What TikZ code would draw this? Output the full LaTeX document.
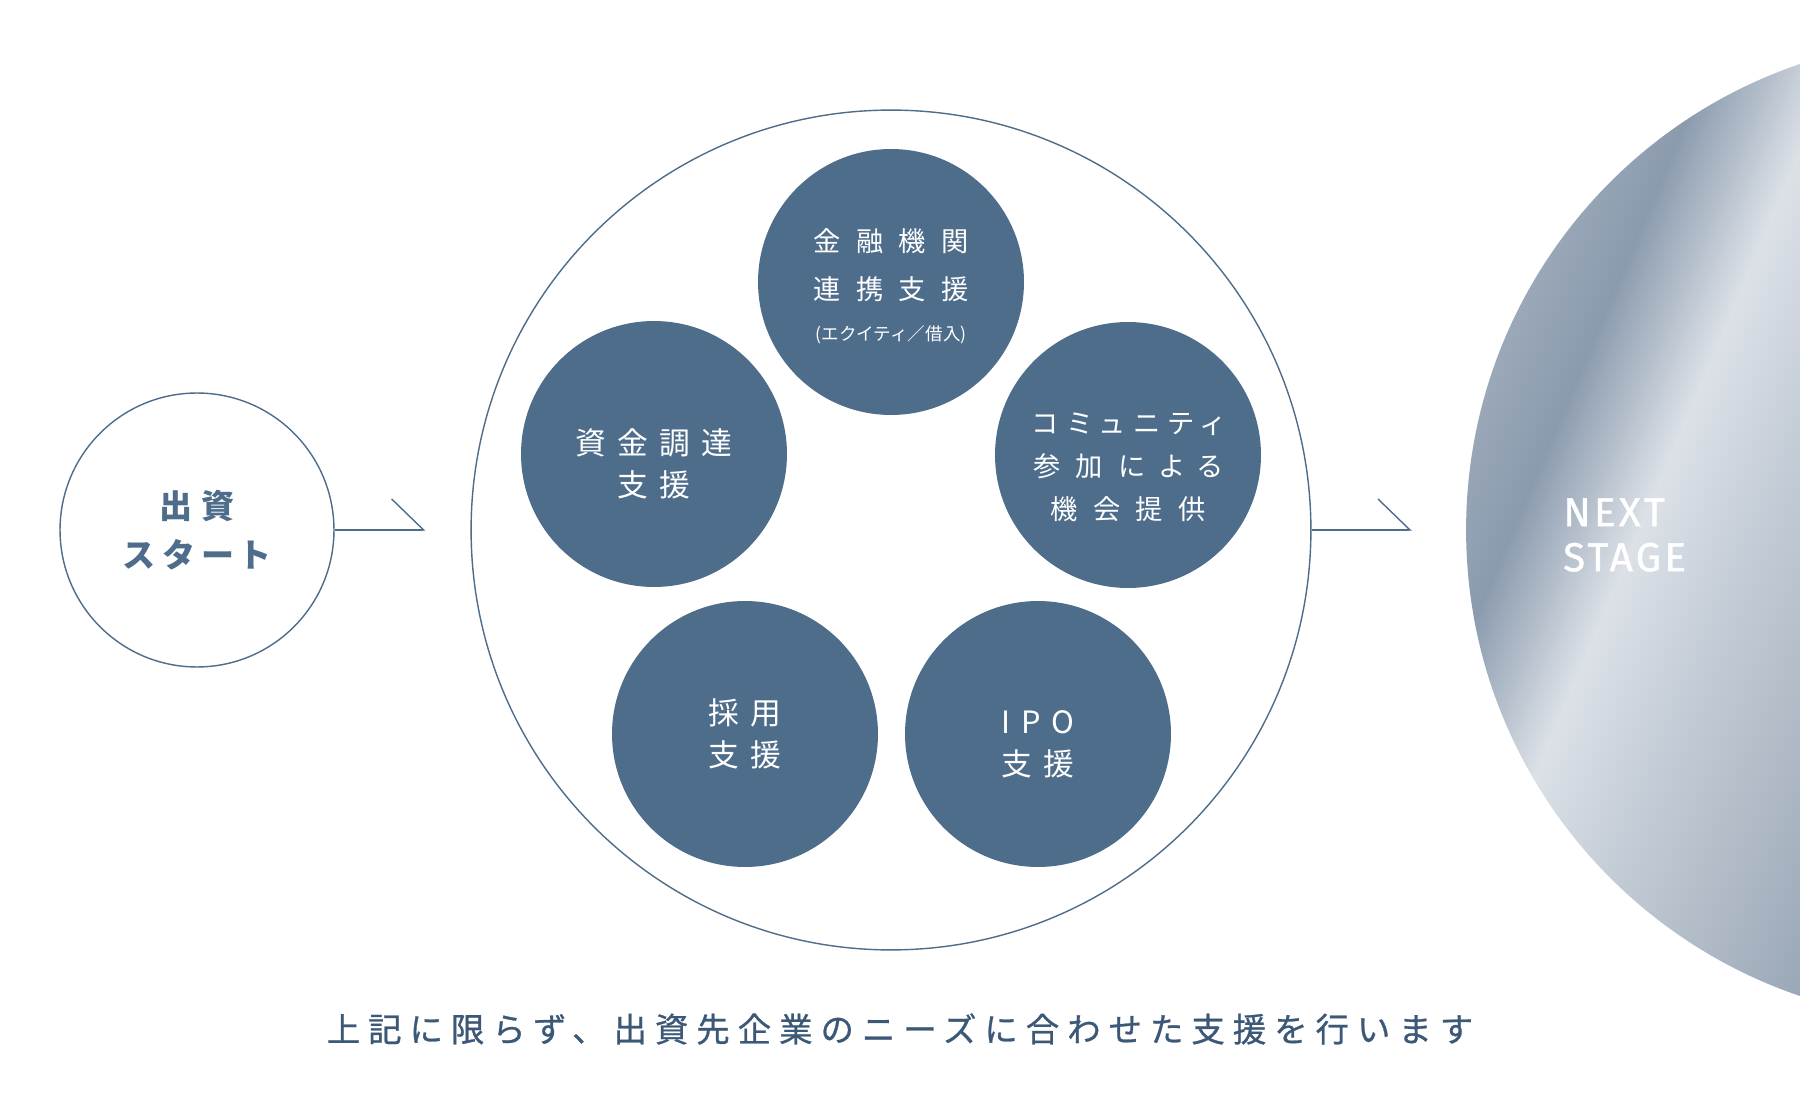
\documentclass[tikz,border=0pt]{standalone}
\usepackage{fontspec}
\usetikzlibrary{arrows.meta}

\newfontfamily\jpbig[LetterSpace=36]{Noto Sans CJK JP}
\newfontfamily\jpsmall[LetterSpace=56, RawFeature=+palt]{Noto Sans CJK JP}
\newfontfamily\jpkana[LetterSpace=36, RawFeature=+palt]{Noto Sans CJK JP}
\newfontfamily\jpplain{Noto Sans CJK JP}
\newfontfamily\jpstart[LetterSpace=25, RawFeature=+palt]{Noto Sans CJK JP}
\newfontfamily\jpnote[LetterSpace=24, FakeBold=0.8]{Noto Sans CJK JP}
\newfontfamily\stagefont[LetterSpace=8, FakeBold=1]{Fira Sans}

\definecolor{deepblue}{HTML}{4E6D8B}
\definecolor{notetext}{HTML}{3C5877}
\definecolor{sa}{HTML}{9AA8B8}
\definecolor{sb}{HTML}{8B9BAE}
\definecolor{sc}{HTML}{DCE1E7}
\definecolor{sd}{HTML}{C6CED8}
\definecolor{se}{HTML}{ADB8C4}
\definecolor{sf}{HTML}{95A3B5}
\definecolor{sg}{HTML}{8092A8}
\pgfdeclarehorizontalshading{nextshade}{100bp}{color(0bp)=(sa); color(25bp)=(sa);
  color(29bp)=(sb); color(35bp)=(sc); color(40bp)=(sd); color(47bp)=(se);
  color(53bp)=(sf); color(75bp)=(sg); color(100bp)=(sg)}

% invisible post that lowers a label inside its circle
\newcommand{\pushdown}[1]{\rule{0pt}{#1}}

\begin{document}
\begin{tikzpicture}[x=0.02cm, y=-0.02cm,
  ring/.style={circle, draw=deepblue, line width=0.8pt, inner sep=0pt},
  topic/.style={circle, fill=deepblue, text=white, inner sep=0pt, minimum size=5.32cm,
    align=center, font=\jpbig\fontsize{17.5}{24.2}\selectfont},
  topicsmall/.style={topic, font=\jpsmall\fontsize{15.5}{24.5}\selectfont},
  flow/.style={draw=deepblue, line width=0.8pt, -{Straight Barb[left, length=0.64cm, width=1.24cm]}}]
  \useasboundingbox[fill=white] (0,0) rectangle (1800,1101);

  % start and the big ring
  \node[ring, minimum size=5.48cm, text=deepblue, align=center,
    font=\jpstart\bfseries\fontsize{18.8}{27.9}\selectfont] (start) at (197,530) {出資\\スタート};
  \node[ring, minimum size=16.8cm] (hub) at (891,530) {};

  % support menu
  \node[topicsmall] (finance) at (891,282)
    {\pushdown{17.9pt}金融機関\\[2.8pt]連携支援\\[-1.6pt]{\jpplain\fontsize{10}{12}\selectfont (エクイティ／借入)}};
  \node[topic] (funding) at (654,454) {\pushdown{25.9pt}資金調達\\支援};
  \node[topicsmall] (community) at (1128,455) {\pushdown{25.5pt}{\jpkana コミュニティ}\\参加による\\機会提供};
  \node[topic] (hiring) at (745,734) {採用\\支援};
  \node[topic] (ipo) at (1038,734) {\pushdown{24.7pt}IPO\\支援};

  % next stage
  \node[circle, minimum size=19.68cm, inner sep=0pt, shade, shading=nextshade, shading angle=-23] (next) at (1958,530) {};
  \node[anchor=west, text=white, align=left, font=\stagefont\fontsize{23}{25.6}\selectfont] (stagelabel) at (1557,535) {NEXT\\STAGE};

  % flow
  \draw[flow, shorten >=0.9cm] (start) -- (hub);
  \draw[flow, shorten >=1.08cm] (hub) -- (next);

  \node[text=notetext, font=\jpnote\fontsize{19}{21}\selectfont] (note) at (900,1029)
    {上記に限らず、出資先企業のニーズに合わせた支援を行います};
\end{tikzpicture}
\end{document}
